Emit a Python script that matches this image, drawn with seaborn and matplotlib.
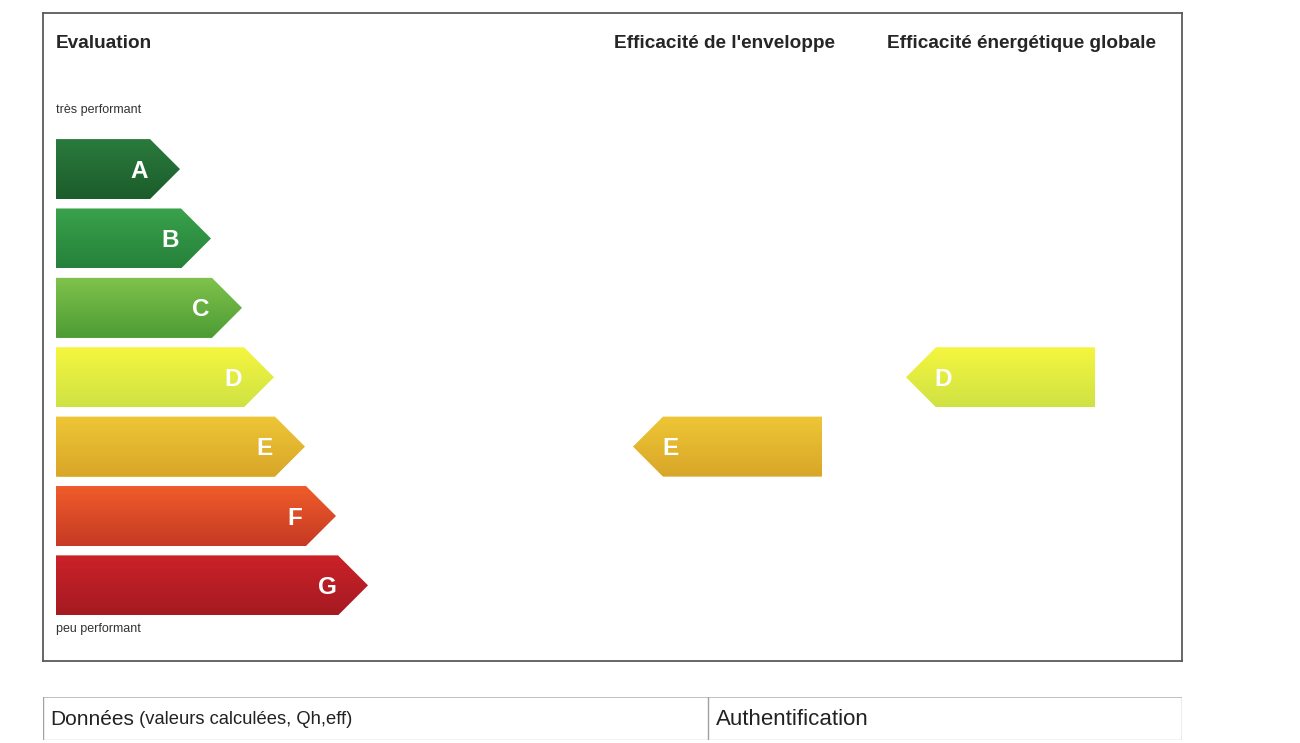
import numpy as np
import pandas as pd
import matplotlib
matplotlib.use("Agg")
import matplotlib.pyplot as plt
from matplotlib.patches import Polygon
from matplotlib.colors import to_rgb
import seaborn as sns

# ---------------- data ----------------
classes = ["A", "B", "C", "D", "E", "F", "G"]
bar_lengths = [94, 125, 156, 188, 219, 250, 282]   # length of rectangular part of each class bar
top_colors = ["#2b7b3d", "#3aa24c", "#80c24c", "#f6f63e", "#eec636", "#f05c2a", "#cc2229"]
bottom_colors = ["#1b5c2b", "#25813a", "#4c9c34", "#cfe244", "#d8a628", "#c63a24", "#a51a22"]

title_eval = "Evaluation"
title_envelope = "Efficacité de l'enveloppe"
title_global = "Efficacité énergétique globale"
label_top = "très performant"
label_bottom = "peu performant"
envelope_class = "E"
global_class = "D"
table_left_bold = "Données"
table_left_rest = " (valeurs calculées, Qh,eff)"
table_right = "Authentification"

# ---------------- style ----------------
sns.set_theme(style="white")
plt.rcParams["font.family"] = ["Liberation Sans", "DejaVu Sans"]

W, H = 1300, 743
fig = plt.figure(figsize=(W / 100, H / 100), dpi=100)
fig.patch.set_facecolor("white")

# main framed panel
ax = fig.add_axes([43 / W, 82 / H, 1139 / W, 648 / H])
df = pd.DataFrame({"classe": classes, "longueur": bar_lengths})
bar_h = 0.865
sns.barplot(data=df, x="longueur", y="classe", hue="classe", palette=top_colors,
            orient="h", width=bar_h, saturation=1, legend=False, ax=ax, zorder=2)

tip = 30  # tip depth (same units as x)


def gradient_fill(poly_xy, x0, x1, yc, c_top, c_bot):
    poly = Polygon(poly_xy, closed=True, facecolor="none", edgecolor="none", zorder=3)
    ax.add_patch(poly)
    n = 64
    t = np.linspace(0, 1, n)[:, None, None]
    ct = np.array(to_rgb(c_top))[None, None, :]
    cb = np.array(to_rgb(c_bot))[None, None, :]
    img = ct * (1 - t) + cb * t
    im = ax.imshow(img, extent=[x0, x1, yc + bar_h / 2, yc - bar_h / 2],
                   aspect="auto", origin="upper", zorder=3, interpolation="bilinear")
    im.set_clip_path(poly)


letter_font = dict(color="white", fontsize=17.5, fontweight="bold",
                   va="center", zorder=5)

for i, (cls, L) in enumerate(zip(classes, bar_lengths)):
    y = i
    pts = [(0, y - bar_h / 2), (L, y - bar_h / 2), (L + tip, y),
           (L, y + bar_h / 2), (0, y + bar_h / 2)]
    gradient_fill(pts, 0, L + tip, y, top_colors[i], bottom_colors[i])
    ax.text(L - 11, y + 0.03, cls, ha="center", **letter_font)

# rating arrows (columns: layout positions)
columns = [(607, 766, envelope_class), (880, 1039, global_class)]
for xl, xr, cls in columns:
    i = classes.index(cls)
    y = i
    pts = [(xr, y - bar_h / 2), (xl, y - bar_h / 2), (xl - tip, y),
           (xl, y + bar_h / 2), (xr, y + bar_h / 2)]
    gradient_fill(pts, xl - tip, xr, y, top_colors[i], bottom_colors[i])
    ax.text(xl + 7, y + 0.03, cls, ha="center", **letter_font)

ax.set_xlim(-13, 1126)
ax.set_ylim(7.09, -2.25)
ax.set_xticks([])
ax.set_yticks([])
ax.set_xlabel("")
ax.set_ylabel("")
for s in ax.spines.values():
    s.set_visible(True)
    s.set_color("#5a5a5a")
    s.set_linewidth(1.3)

head = dict(fontsize=13.7, fontweight="bold", color="#262626", va="center",
            transform=ax.transAxes)
ax.text(0.0114, 0.953, title_eval, ha="left", **head)
ax.text(0.598, 0.953, title_envelope, ha="center", **head)
ax.text(0.8587, 0.953, title_global, ha="center", **head)
ax.text(0.0114, 0.850, label_top, ha="left", va="center", fontsize=9,
        color="#333333", transform=ax.transAxes)
ax.text(0.0114, 0.0494, label_bottom, ha="left", va="center", fontsize=9,
        color="#333333", transform=ax.transAxes)

# bottom table strip
tax = fig.add_axes([43 / W, 3 / H, 1139 / W, 43 / H])
tax.set_xlim(0, 1)
tax.set_ylim(0, 1)
tax.axis("off")
tax.axhline(1, color="#b5b5b5", lw=1.2)
tax.axhline(0, color="#c8c8c8", lw=1.0)
for xv in (0, 0.584, 1):
    tax.axvline(xv, color="#a0a0a0", lw=1.0)
t1 = tax.text(0.006, 0.48, table_left_bold, ha="left", va="center",
              fontsize=15, color="#222222")
tax.annotate(table_left_rest, xy=(1, 0.5), xycoords=t1, ha="left", va="center",
             fontsize=13.2, color="#222222")
tax.text(0.591, 0.48, table_right, ha="left", va="center", fontsize=16, color="#222222")

fig.savefig("out.png", dpi=100, facecolor="white")
